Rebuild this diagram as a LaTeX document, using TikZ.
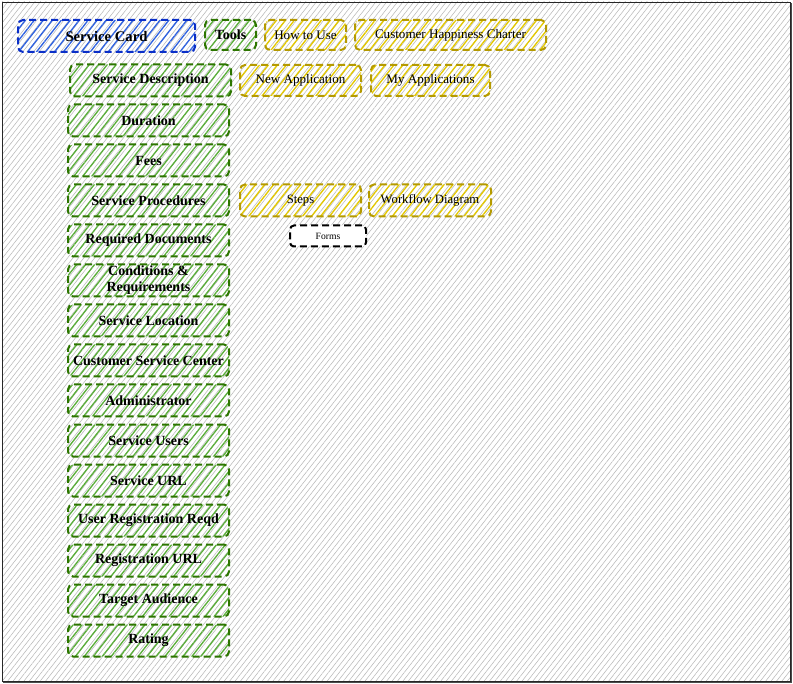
\documentclass[tikz,border=0pt]{standalone}
\usepackage{fontspec}
\setmainfont{Liberation Serif}
\usetikzlibrary{patterns.meta}
\definecolor{bluestroke}{HTML}{0A2FC8}
\definecolor{bluefill}{HTML}{2F62E0}
\definecolor{greenstroke}{HTML}{2D7600}
\definecolor{greenfill}{HTML}{5AAE3A}
\definecolor{yellowstroke}{HTML}{B59A00}
\definecolor{yellowfill}{HTML}{E3C800}
\tikzset{
  box/.style={rectangle, rounded corners=3.75pt, line width=1.5pt,
    dash pattern=on 5.25pt off 3pt, inner sep=1pt, align=center,
    pattern={Lines[angle=52,distance=5.3pt,line width=1pt]}},
  bluebox/.style={box, draw=bluestroke, pattern color=bluefill,
    font=\fontsize{11}{12}\selectfont\bfseries},
  greenbox/.style={box, draw=greenstroke, pattern color=greenfill,
    font=\fontsize{10.5}{12}\selectfont\bfseries},
  yellowbox/.style={box, draw=yellowstroke, pattern color=yellowfill,
    font=\fontsize{9.8}{11}\selectfont},
  colbox/.style={greenbox, minimum width=120.75pt, minimum height=24pt},
  formbox/.style={rectangle, rounded corners=3pt, line width=1.5pt,
    dash pattern=on 5.25pt off 3pt, draw=black, fill=white,
    font=\fontsize{7.2}{8}\selectfont, minimum width=57pt, minimum height=15.75pt, inner sep=1pt}
}
\begin{document}
\begin{tikzpicture}[x=0.75pt,y=-0.75pt]
\useasboundingbox (0,0) rectangle (793,684);
% background
\fill[white] (2,2) rectangle (790,681);
\fill[pattern={Lines[angle=52,distance=3.2pt,line width=0.4pt]}, pattern color=black!28] (2,2) rectangle (790,681);
\draw[black!85, line width=0.6pt] (2,2) rectangle (790,681);
\draw[black!70, line width=1.2pt] (3,682.5) -- (791.5,682.5) -- (791.5,3);
% top row
\node[bluebox, minimum width=132.75pt, minimum height=24pt] (sc) at (106.5,36) {Service Card};
\node[greenbox, minimum width=38.25pt, minimum height=22.5pt] (tools) at (230.5,35) {Tools};
\node[yellowbox, minimum width=60.75pt, minimum height=22.5pt] (howto) at (305.5,35) {How to Use};
\node[yellowbox, minimum width=143.25pt, minimum height=22.5pt] (chc) at (450.5,35) {Customer Happiness Charter};
% second row
\node[colbox] (sd) at (150.5,80.5) {Service Description};
\node[yellowbox, minimum width=90.75pt, minimum height=23.25pt] (newapp) at (300.5,80.5) {New Application};
\node[yellowbox, minimum width=89.25pt, minimum height=23.25pt] (myapp) at (430.5,80.5) {My Applications};
% column
\node[colbox] (dur) at (148.5,120.5) {Duration};
\node[colbox] (fees) at (148.5,160.5) {Fees};
\node[colbox] (proc) at (148.5,200.5) {Service Procedures};
\node[colbox] (docs) at (148.5,240.5) {Required Documents};
\node[colbox] (cond) at (148.5,280.5) {Conditions \&\\Requirements};
\node[colbox] (loc) at (148.5,320.5) {Service Location};
\node[colbox] (csc) at (148.5,360.5) {Customer Service Center};
\node[colbox] (adm) at (148.5,400.5) {Administrator};
\node[colbox] (users) at (148.5,440.5) {Service Users};
\node[colbox] (url) at (148.5,480.5) {Service URL};
\node[colbox] (urr) at (148.5,520.5) {User Registration Reqd};
\node[colbox] (rurl) at (148.5,560.5) {Registration URL};
\node[colbox] (ta) at (148.5,600.5) {Target Audience};
\node[colbox] (rating) at (148.5,640.5) {Rating};
% procedures row
\node[yellowbox, font=\fontsize{9.5}{10}\selectfont, minimum width=90.75pt, minimum height=24pt] (steps) at (300.5,200.5) {Steps};
\node[yellowbox, font=\fontsize{9.5}{10}\selectfont, minimum width=91.5pt, minimum height=24pt] (wf) at (430,200.5) {Workflow Diagram};
\node[formbox] (forms) at (328,236) {Forms};
\end{tikzpicture}
\end{document}
